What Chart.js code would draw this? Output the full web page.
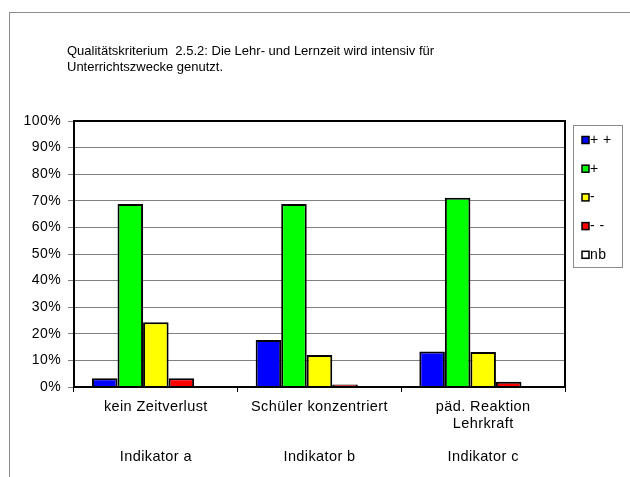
<!DOCTYPE html>
<html>
<head>
<meta charset="utf-8">
<script src="https://cdn.jsdelivr.net/npm/chart.js@4"></script>
<style>
  body { margin: 0; background: #fff; }
  #wrap { position: relative; width: 630px; height: 477px; }
  #frame { position: absolute; left: 9px; top: 12px; width: 630px; height: 470px;
           border-top: 1px solid #8c8c8c; border-left: 1px solid #8c8c8c; }
  canvas { position: absolute; left: 0; top: 0; }
</style>
</head>
<body>
<div id="wrap">
  <div id="frame"></div>
  <canvas id="chart" width="630" height="477"></canvas>
</div>
<script>
const categories = [
    ["kein Zeitverlust", "", "", "Indikator a"],
    ["Schüler konzentriert", "", "", "Indikator b"],
    ["päd. Reaktion", "Lehrkraft", "", "Indikator c"]
];
const seriesNames = ["+ +", "+", "-", "- -", "nb"];
const seriesColors = ["#0000ff", "#00ff00", "#ffff00", "#ff0000", "#ffffff"];
const plusPlus = [3.3, 17.7, 13.3];
const plus = [68.8, 68.8, 71.1];
const minus = [24.3, 12.0, 13.2];
const minusMinus = [3.3, 0.9, 2.0];
const nb = [0, 0, 0];
const titleLines = [
    "Qualitätskriterium  2.5.2: Die Lehr- und Lernzeit wird intensiv für",
    "Unterrichtszwecke genutzt."
];

const FONT = "'Liberation Sans', Arial, sans-serif";
const ctx = document.getElementById("chart").getContext("2d");

const values = [plusPlus, plus, minus, minusMinus, nb];
const datasets = seriesNames.map((name, i) => ({
    label: name,
    data: values[i],
    backgroundColor: seriesColors[i],
    borderColor: "#000",
    borderWidth: 2,
    barPercentage: 1,
    categoryPercentage: 0.78
}));

// the reference text is a little wider spaced than plain Arial
const spacing = {
    id: "spacing",
    beforeUpdate(chart) { chart.ctx.letterSpacing = "0.4px"; },
    beforeDraw(chart) { chart.ctx.letterSpacing = "0.4px"; }
};

// title, plot frame and boxed legend
const extras = {
    id: "extras",
    afterDraw(chart) {
        const c = chart.ctx;
        const a = chart.chartArea;
        c.save();
        c.strokeStyle = "#000";
        c.lineWidth = 2;
        c.strokeRect(a.left, a.top, a.right - a.left, a.bottom - a.top);

        c.letterSpacing = "0px";
        c.fillStyle = "#000";
        c.font = "13px " + FONT;
        c.textBaseline = "middle";
        c.textAlign = "left";
        titleLines.forEach((t, i) => c.fillText(t, 67, 51 + i * 16));

        c.strokeStyle = "#8c8c8c";
        c.lineWidth = 1;
        c.strokeRect(573.5, 125.5, 49, 142);
        c.letterSpacing = "0.5px";
        c.font = "14px " + FONT;
        chart.data.datasets.forEach((ds, i) => {
            const y = 140 + i * 28.7;
            c.fillStyle = ds.backgroundColor;
            c.fillRect(582, y - 3.5, 7, 7);
            c.strokeStyle = "#000";
            c.lineWidth = 1.5;
            c.strokeRect(582, y - 3.5, 7, 7);
            c.fillStyle = "#000";
            c.fillText(ds.label, 590, y);
        });
        c.restore();
    }
};

new Chart(ctx, {
    type: "bar",
    data: { labels: categories, datasets: datasets },
    options: {
        responsive: false,
        animation: false,
        layout: { padding: { left: 0, right: 65, top: 121, bottom: 0 } },
        plugins: { legend: { display: false }, tooltip: { enabled: false } },
        scales: {
            x: {
                grid: { drawOnChartArea: false, color: "#000", tickLength: 5, offset: true },
                border: { color: "#000", width: 2 },
                ticks: { color: "#000", font: { family: FONT, size: 14.5, lineHeight: 1.14 }, padding: 7, maxRotation: 0 },
                afterFit(s) { s.height = 90; }
            },
            y: {
                min: 0, max: 100,
                grid: { color: "#808080", tickLength: 6, lineWidth: 1 },
                border: { color: "#000", width: 2 },
                ticks: { stepSize: 10, color: "#000", padding: 7,
                         font: { family: FONT, size: 14 },
                         callback: v => v + "%" },
                afterFit(s) { s.width = 74; }
            }
        }
    },
    plugins: [spacing, extras]
});
</script>
</body>
</html>
